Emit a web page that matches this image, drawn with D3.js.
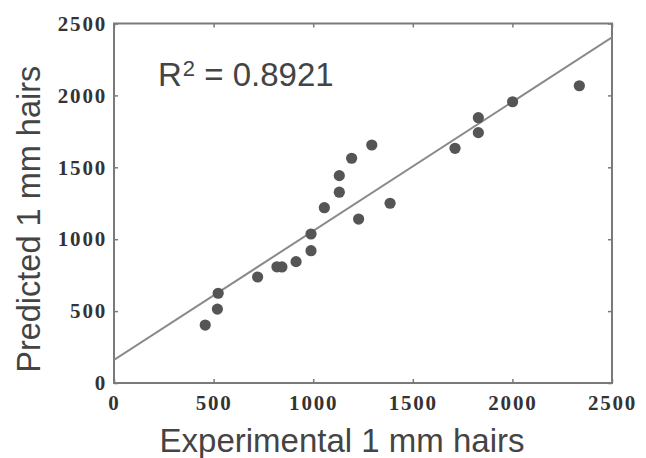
<!DOCTYPE html>
<html>
<head>
<meta charset="utf-8">
<script src="https://cdn.jsdelivr.net/npm/d3@7"></script>
<style>
  html, body { margin: 0; padding: 0; background: #fff; }
  svg { display: block; }
</style>
</head>
<body>
<svg id="chart" width="646" height="458"></svg>
<script>
// Experimental vs predicted counts of 1 mm hairs
const experimental = [458, 519, 523, 721, 818, 843, 914, 989, 989, 1056, 1131, 1131, 1193, 1228, 1294, 1386, 1712, 1829, 1829, 2001, 2336];
const predicted    = [403, 514, 624, 737, 808, 807, 844, 920, 1036, 1219, 1327, 1442, 1563, 1140, 1655, 1250, 1632, 1741, 1845, 1956, 2067];

// Linear fit drawn across the full x range
const fitX = [0, 2500];
const fitY = [160, 2404];
const rSquared = "0.8921";

const tickValues = [0, 500, 1000, 1500, 2000, 2500];
const xTitle = "Experimental 1 mm hairs";
const yTitle = "Predicted 1 mm hairs";

const svg = d3.select("#chart");
const plotLeft = 114, plotRight = 612, plotTop = 23.5, plotBottom = 383;

const x = d3.scaleLinear().domain([0, 2500]).range([plotLeft, plotRight]);
const y = d3.scaleLinear().domain([0, 2500]).range([plotBottom, plotTop]);

const frameColor = "#7a7a7a";
const tickFont = "'Liberation Serif', 'Times New Roman', serif";
const sansFont = "'Liberation Sans', Arial, sans-serif";

// clip for the fit line
svg.append("defs").append("clipPath").attr("id", "plotClip")
  .append("rect").attr("x", plotLeft).attr("y", plotTop)
  .attr("width", plotRight - plotLeft).attr("height", plotBottom - plotTop);

// inward ticks on all four sides
function styleAxis(g, showLabels) {
  g.select(".domain").remove();
  g.selectAll(".tick line").attr("stroke", frameColor).attr("stroke-width", 1.5);
  g.selectAll(".tick text")
    .attr("font-family", tickFont)
    .attr("font-weight", "bold")
    .attr("font-size", 21)
    .attr("letter-spacing", 1.8)
    .attr("fill", "#333");
  if (!showLabels) g.selectAll(".tick text").remove();
}

svg.append("g").attr("transform", `translate(0,${plotBottom})`)
  .call(d3.axisBottom(x).tickValues(tickValues).tickFormat(d3.format("d"))
    .tickSizeInner(-4).tickSizeOuter(0).tickPadding(12))
  .call(g => styleAxis(g, true));

svg.append("g").attr("transform", `translate(0,${plotTop})`)
  .call(d3.axisTop(x).tickValues(tickValues).tickSizeInner(-4).tickSizeOuter(0))
  .call(g => styleAxis(g, false));

svg.append("g").attr("transform", `translate(${plotLeft},0)`)
  .call(d3.axisLeft(y).tickValues(tickValues).tickFormat(d3.format("d"))
    .tickSizeInner(-4).tickSizeOuter(0).tickPadding(7))
  .call(g => styleAxis(g, true));

svg.append("g").attr("transform", `translate(${plotRight},0)`)
  .call(d3.axisRight(y).tickValues(tickValues).tickSizeInner(-4).tickSizeOuter(0))
  .call(g => styleAxis(g, false));

// plot frame
svg.append("rect")
  .attr("x", plotLeft).attr("y", plotTop)
  .attr("width", plotRight - plotLeft).attr("height", plotBottom - plotTop)
  .attr("fill", "none").attr("stroke", frameColor).attr("stroke-width", 2);

// regression line
svg.append("line")
  .attr("clip-path", "url(#plotClip)")
  .attr("x1", x(fitX[0])).attr("y1", y(fitY[0]))
  .attr("x2", x(fitX[1])).attr("y2", y(fitY[1]))
  .attr("stroke", "#8a8a8a").attr("stroke-width", 2);

// data points
svg.append("g").selectAll("circle")
  .data(experimental.map((v, i) => [v, predicted[i]]))
  .join("circle")
  .attr("cx", d => x(d[0])).attr("cy", d => y(d[1]))
  .attr("r", 5.6)
  .attr("fill", "#555");

// R² annotation
const r2 = svg.append("text")
  .attr("x", 158).attr("y", 86)
  .attr("font-family", sansFont).attr("font-size", 33).attr("fill", "#444");
r2.append("tspan").text("R");
r2.append("tspan").attr("font-size", 22).attr("dx", 1).attr("dy", -10).text("2");
r2.append("tspan").attr("dy", 10).text(" = " + rSquared);

// axis titles
svg.append("text")
  .attr("x", (plotLeft + plotRight) / 2 - 21).attr("y", 452)
  .attr("text-anchor", "middle")
  .attr("font-family", sansFont).attr("font-size", 33).attr("fill", "#444")
  .text(xTitle);

svg.append("text")
  .attr("transform", `translate(40,${(plotTop + plotBottom) / 2 + 16}) rotate(-90)`)
  .attr("text-anchor", "middle")
  .attr("font-family", sansFont).attr("font-size", 32.5).attr("fill", "#444")
  .text(yTitle);
</script>
</body>
</html>
